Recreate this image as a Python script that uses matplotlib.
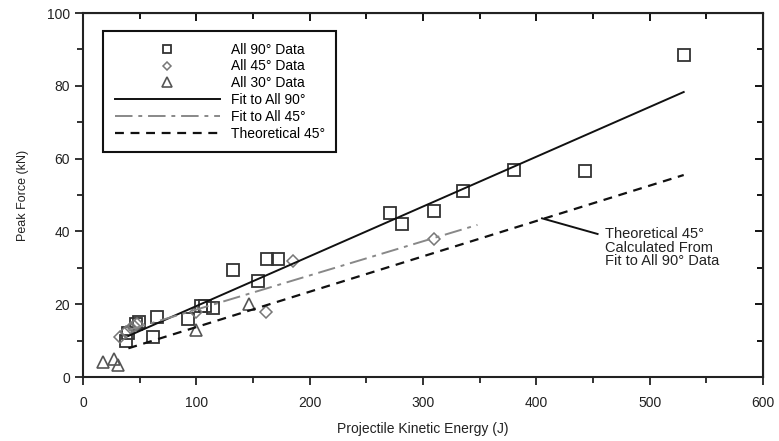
import numpy as np
import matplotlib.pyplot as plt
from matplotlib.ticker import MultipleLocator

plt.rcParams['font.family'] = ['Liberation Sans', 'DejaVu Sans']

# All 90 deg data (J, kN)
x90 = [38, 40, 47, 49, 62, 65, 93, 104, 108, 115, 132, 154, 162, 172, 271, 281, 310, 335, 380, 443, 530]
y90 = [10, 12, 14.5, 15, 11, 16.5, 16, 19.5, 19.5, 19, 29.5, 26.5, 32.5, 32.5, 45, 42, 45.5, 51, 57, 56.5, 88.5]

# All 45 deg data
x45 = [33, 38, 42, 45, 48, 100, 161, 185, 310]
y45 = [11, 12.5, 13.5, 14, 14.5, 18, 18, 32, 38]

# All 30 deg data
x30 = [18, 27, 31, 100, 146]
y30 = [4, 5, 3.2, 13, 20]

# fitted / theoretical lines (end points)
fit90_x = [40, 530]
fit90_y = [11.3, 78.3]
fit45_x = [40, 348]
fit45_y = [12.9, 41.8]
theo45_x = [40, 530]
theo45_y = [7.9, 55.5]

fig = plt.figure(figsize=(7.79, 4.41), dpi=100)
ax = fig.add_axes([0.1066, 0.145, 0.8729, 0.8255])

ax.plot(x90, y90, 's', ms=8.5, mfc='none', mec='#333333', mew=1.3, label='All 90° Data')
ax.plot(x45, y45, 'D', ms=6, mfc='none', mec='#777777', mew=1.1, label='All 45° Data')
ax.plot(x30, y30, '^', ms=9, mfc='none', mec='#555555', mew=1.2, label='All 30° Data')
ax.plot(fit90_x, fit90_y, '-', color='#111111', lw=1.4, label='Fit to All 90°')
ax.plot(fit45_x, fit45_y, color='#888888', lw=1.4, dashes=(9, 3, 2, 3), label='Fit to All 45°')
ax.plot(theo45_x, theo45_y, color='#111111', lw=1.6, dashes=(4, 3), label='Theoretical 45°')

# annotation for theoretical line
ax.plot([405, 454], [43.6, 39.3], color='#111111', lw=1.4)
ax.text(461, 41.2, 'Theoretical 45°\nCalculated From\nFit to All 90° Data',
        fontsize=10.5, va='top', ha='left', color='#222222', linespacing=0.95)

ax.set_xlim(0, 600)
ax.set_ylim(0, 100)
ax.xaxis.set_major_locator(MultipleLocator(100))
ax.xaxis.set_minor_locator(MultipleLocator(50))
ax.yaxis.set_major_locator(MultipleLocator(20))
ax.yaxis.set_minor_locator(MultipleLocator(10))
ax.tick_params(which='both', direction='out', labelsize=10, colors='#222222', width=1.3)
ax.tick_params(which='major', length=6)
ax.tick_params(which='minor', length=4)
ax.tick_params(axis='x', pad=8)
for s in ax.spines.values():
    s.set_linewidth(1.5)
    s.set_color('#222222')

# inward ticks on top and right
top = ax.secondary_xaxis('top')
top.xaxis.set_major_locator(MultipleLocator(100))
top.xaxis.set_minor_locator(MultipleLocator(50))
top.tick_params(which='both', direction='in', labeltop=False, width=1.3)
top.tick_params(which='major', length=6)
top.tick_params(which='minor', length=4)
right = ax.secondary_yaxis('right')
right.yaxis.set_major_locator(MultipleLocator(20))
right.yaxis.set_minor_locator(MultipleLocator(10))
right.tick_params(which='both', direction='in', labelright=False, width=1.3)
right.tick_params(which='major', length=6)
right.tick_params(which='minor', length=4)

ax.set_xlabel('Projectile Kinetic Energy (J)', fontsize=10, labelpad=8, color='#222222')
ax.set_ylabel('Peak Force (kN)', fontsize=9, labelpad=13, color='#222222')

leg = ax.legend(loc='upper left', bbox_to_anchor=(0.029, 0.951), borderaxespad=0,
                fontsize=10, handlelength=7.6, handletextpad=0.75, labelspacing=0.2,
                borderpad=0.85, markerscale=0.75, fancybox=False, framealpha=1)
leg.get_frame().set_edgecolor('#111111')
leg.get_frame().set_linewidth(1.5)

fig.savefig('out.png', dpi=100)
